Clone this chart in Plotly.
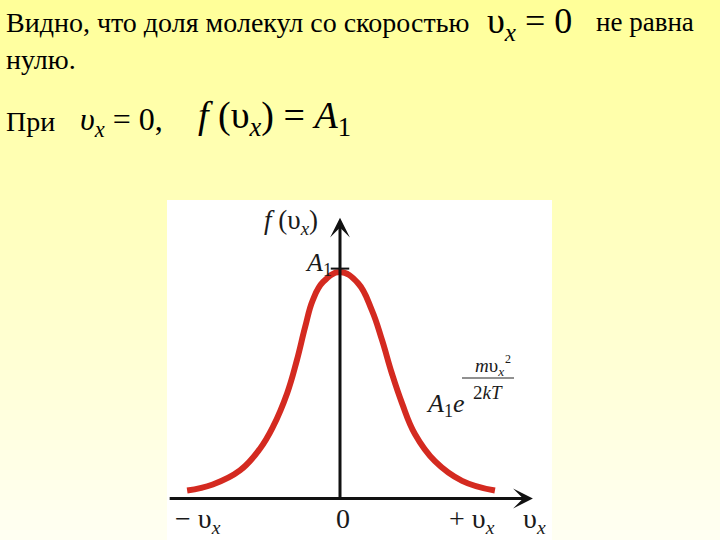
import plotly.graph_objects as go

# ---------------- data ----------------
# velocity component v_x (arbitrary units, curve ends at about +-3)
vx = [-2.98, -2.48, -1.95, -1.56, -1.31, -1.03, -0.84, -0.68, -0.53, -0.33,
      0.0, 0.35, 0.62, 0.82, 1.01, 1.21, 1.46, 1.85, 2.38, 3.02]
# f(v_x) as fraction of A1
f_vx = [0.035, 0.062, 0.124, 0.220, 0.315, 0.465, 0.611, 0.757, 0.876, 0.956,
        1.0, 0.951, 0.832, 0.699, 0.553, 0.420, 0.285, 0.165, 0.078, 0.035]
A1 = 1.0
axis_x_extent = [-3.35, 3.76]
axis_y_top = 1.24

# ---------------- geometry helpers ----------------
W, H = 720, 540
ORIGIN_PX, ORIGIN_PY = 340.0, 498.5
PX_PER_X, PX_PER_Y = 51.3, 226.5

def PX(x):
    return x / W

def PY(y):
    return 1 - y / H

x_range = [(0 - ORIGIN_PX) / PX_PER_X, (W - ORIGIN_PX) / PX_PER_X]
y_range = [(ORIGIN_PY - H) / PX_PER_Y, ORIGIN_PY / PX_PER_Y]

SERIF = "'Liberation Serif', 'Times New Roman', 'DejaVu Serif', serif"

fig = go.Figure()

# main curve
fig.add_trace(go.Scatter(
    x=vx, y=f_vx, mode="lines",
    line=dict(color="#D42A20", width=6, shape="spline", smoothing=1.2),
    hoverinfo="skip", showlegend=False))

# A1 tick on the vertical axis
fig.add_trace(go.Scatter(
    x=[-0.18, 0.18], y=[A1 + 0.015, A1 + 0.015], mode="lines",
    line=dict(color="#111111", width=2), hoverinfo="skip", showlegend=False))

# ---------------- background gradient & white panel ----------------
shapes = []
N = 54
top = (255, 255, 153)
bot = (255, 255, 242)
for i in range(N):
    t = i / (N - 1)
    c = tuple(round(top[k] + (bot[k] - top[k]) * t) for k in range(3))
    shapes.append(dict(type="rect", xref="paper", yref="paper",
                       x0=0, x1=1, y0=1 - (i + 1) / N, y1=1 - i / N,
                       fillcolor="rgb(%d,%d,%d)" % c, line=dict(width=0),
                       layer="below"))
shapes.append(dict(type="rect", xref="paper", yref="paper",
                   x0=PX(167), x1=PX(552), y0=0, y1=PY(200),
                   fillcolor="white", line=dict(width=0), layer="below"))
# fraction bar in the exponent
shapes.append(dict(type="line", xref="paper", yref="paper",
                   x0=PX(462), x1=PX(514), y0=PY(378), y1=PY(378),
                   line=dict(color="#222222", width=1)))

annotations = []

def txt(text, x, y, size, xanchor="left", color="black"):
    annotations.append(dict(text=text, x=PX(x), y=PY(y), xref="paper",
                            yref="paper", xanchor=xanchor, yanchor="middle",
                            showarrow=False,
                            font=dict(family=SERIF, size=size, color=color)))

# slide text
txt("Видно, что доля молекул со скоростью", 4, 22, 28)
txt("υ<sub><i>x</i></sub> = 0", 485, 24, 36)
txt("не равна", 594, 22, 27)
txt("нулю.", 4, 59, 28)
txt("При", 4, 122, 28)
txt("<i>υ</i><sub><i>x</i></sub> = 0,", 78, 122, 32)
txt("<i>f</i> (υ<sub><i>x</i></sub>) = <i>A</i><sub>1</sub>", 196, 118, 38)

# chart labels
txt("<i>f</i> (υ<sub><i>x</i></sub>)", 262, 222, 27, color="#1a1a1a")
txt("<i>A</i><sub>1</sub>", 334, 264, 26, xanchor="right", color="#1a1a1a")
txt("<i>A</i><sub>1</sub><i>e</i>", 424, 405, 26, color="#1a1a1a")
txt("<i>m</i>υ<sub><i>x</i></sub>", 489, 367, 19, xanchor="center", color="#1a1a1a")
txt("2", 508, 359, 12, xanchor="center", color="#1a1a1a")
txt("2<i>kT</i>", 488, 392, 19, xanchor="center", color="#1a1a1a")
txt("− υ<sub><i>x</i></sub>", 198, 520, 28, xanchor="center", color="#1a1a1a")
txt("0", 343, 518, 28, xanchor="center", color="#1a1a1a")
txt("+ υ<sub><i>x</i></sub>", 472, 520, 28, xanchor="center", color="#1a1a1a")
txt("υ<sub><i>x</i></sub>", 534, 520, 28, xanchor="center", color="#1a1a1a")

# axes with arrows
annotations.append(dict(x=axis_x_extent[1], y=0, ax=axis_x_extent[0], ay=0,
                        xref="x", yref="y", axref="x", ayref="y", text="",
                        showarrow=True, arrowhead=3, arrowwidth=3,
                        arrowsize=1.1, arrowcolor="#111111",
                        standoff=0, startstandoff=0))
annotations.append(dict(x=0, y=axis_y_top, ax=0, ay=0,
                        xref="x", yref="y", axref="x", ayref="y", text="",
                        showarrow=True, arrowhead=3, arrowwidth=3,
                        arrowsize=1.1, arrowcolor="#111111",
                        standoff=0, startstandoff=0))

fig.update_layout(
    width=W, height=H, margin=dict(l=0, r=0, t=0, b=0),
    paper_bgcolor="#FFFFF2", plot_bgcolor="rgba(0,0,0,0)",
    font=dict(family=SERIF),
    xaxis=dict(range=x_range, visible=False, fixedrange=True),
    yaxis=dict(range=y_range, visible=False, fixedrange=True),
    shapes=shapes, annotations=annotations, showlegend=False)

fig.write_html("out.html", config={"displayModeBar": False},
               post_script="document.body.style.margin='0';"
                           "document.body.style.padding='0';"
                           "document.body.style.overflow='hidden';")
